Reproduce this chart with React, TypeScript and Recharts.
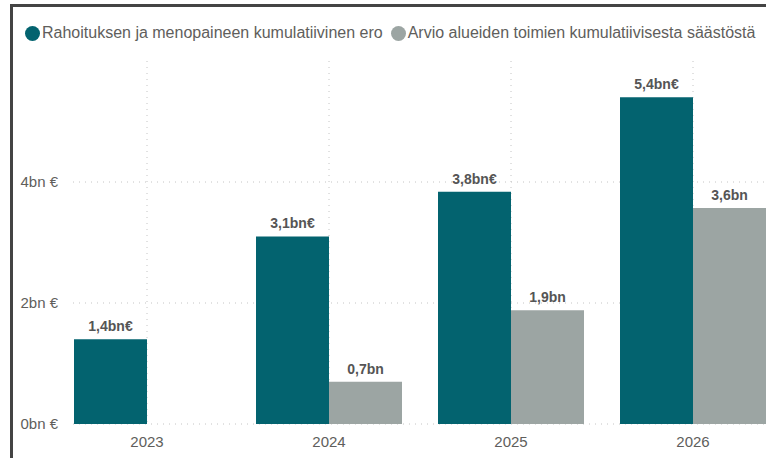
import React from 'react';
import { BarChart, Bar, XAxis, YAxis, CartesianGrid, LabelList } from 'recharts';

const years = ['2023', '2024', '2025', '2026'];
const gapValues = [1.4, 3.1, 3.84, 5.4];
const savingValues: (number | null)[] = [null, 0.7, 1.88, 3.57];
const yTicks = [0, 2, 4];

const seriesNames = [
  'Rahoituksen ja menopaineen kumulatiivinen ero',
  'Arvio alueiden toimien kumulatiivisesta säästöstä',
];
const TEAL = '#03636f';
const GREY = '#9ca5a3';
const TEXT = '#605e5c';

const data = years.map((year, i) => ({
  year,
  gap: gapValues[i],
  saving: savingValues[i],
}));

const fmt = (suffix: string) => (v: any) =>
  v == null ? '' : Number(v).toFixed(1).replace('.', ',') + suffix;

const FONT = '"Liberation Sans", Arial, sans-serif';

export default function App() {
  return (
    <div
      style={{
        position: 'fixed',
        left: 0,
        top: 0,
        width: 769,
        height: 458,
        overflow: 'hidden',
        background: '#fff',
        fontFamily: FONT,
      }}
    >
      {/* frame */}
      <div
        style={{
          position: 'absolute',
          left: 10,
          top: 4,
          width: 753,
          height: 470,
          borderTop: '3px solid #444',
          borderLeft: '3px solid #444',
        }}
      />

      {/* legend */}
      <div
        style={{
          position: 'absolute',
          left: 25,
          top: 24,
          display: 'flex',
          alignItems: 'center',
          fontSize: 16,
          color: TEXT,
          whiteSpace: 'nowrap',
        }}
      >
        {seriesNames.map((name, i) => (
          <div key={name} style={{ display: 'flex', alignItems: 'center', marginRight: 8 }}>
            <span
              style={{
                width: 15,
                height: 15,
                borderRadius: '50%',
                background: i === 0 ? TEAL : GREY,
                display: 'inline-block',
                marginRight: 2,
              }}
            />
            <span>{name}</span>
          </div>
        ))}
      </div>

      <div style={{ position: 'absolute', left: 0, top: 0 }}>
        <BarChart
          width={800}
          height={458}
          data={data}
          margin={{ top: 61, right: 16, left: 13, bottom: 0 }}
          barCategoryGap={18}
          barGap={0}
        >
          {/* syncWithTicks: no extra lines at the plot edges */}
          <CartesianGrid stroke="#c4c4c4" strokeDasharray="1 5" syncWithTicks />
          <XAxis
            dataKey="year"
            height={34}
            axisLine={false}
            tickLine={false}
            tickSize={6}
            tickMargin={6}
            padding={{ left: -17, right: 0 }}
            tick={{ fill: TEXT, fontSize: 15, fontFamily: FONT }}
          />
          <YAxis
            width={60}
            domain={[0, 6]}
            ticks={yTicks}
            axisLine={false}
            tickLine={false}
            tickSize={6}
            tickMargin={9}
            tickFormatter={(v) => `${v}bn €`}
            tick={{ fill: TEXT, fontSize: 15, fontFamily: FONT }}
          />
          <Bar dataKey="gap" fill={TEAL} isAnimationActive={false}>
            <LabelList
              dataKey="gap"
              position="top"
              offset={8}
              formatter={fmt('bn€')}
              style={{ fill: '#555', fontSize: 14, fontWeight: 'bold', fontFamily: FONT }}
            />
          </Bar>
          <Bar dataKey="saving" fill={GREY} isAnimationActive={false}>
            <LabelList
              dataKey="saving"
              position="top"
              offset={8}
              formatter={fmt('bn')}
              style={{ fill: '#555', fontSize: 14, fontWeight: 'bold', fontFamily: FONT }}
            />
          </Bar>
        </BarChart>
      </div>
    </div>
  );
}
